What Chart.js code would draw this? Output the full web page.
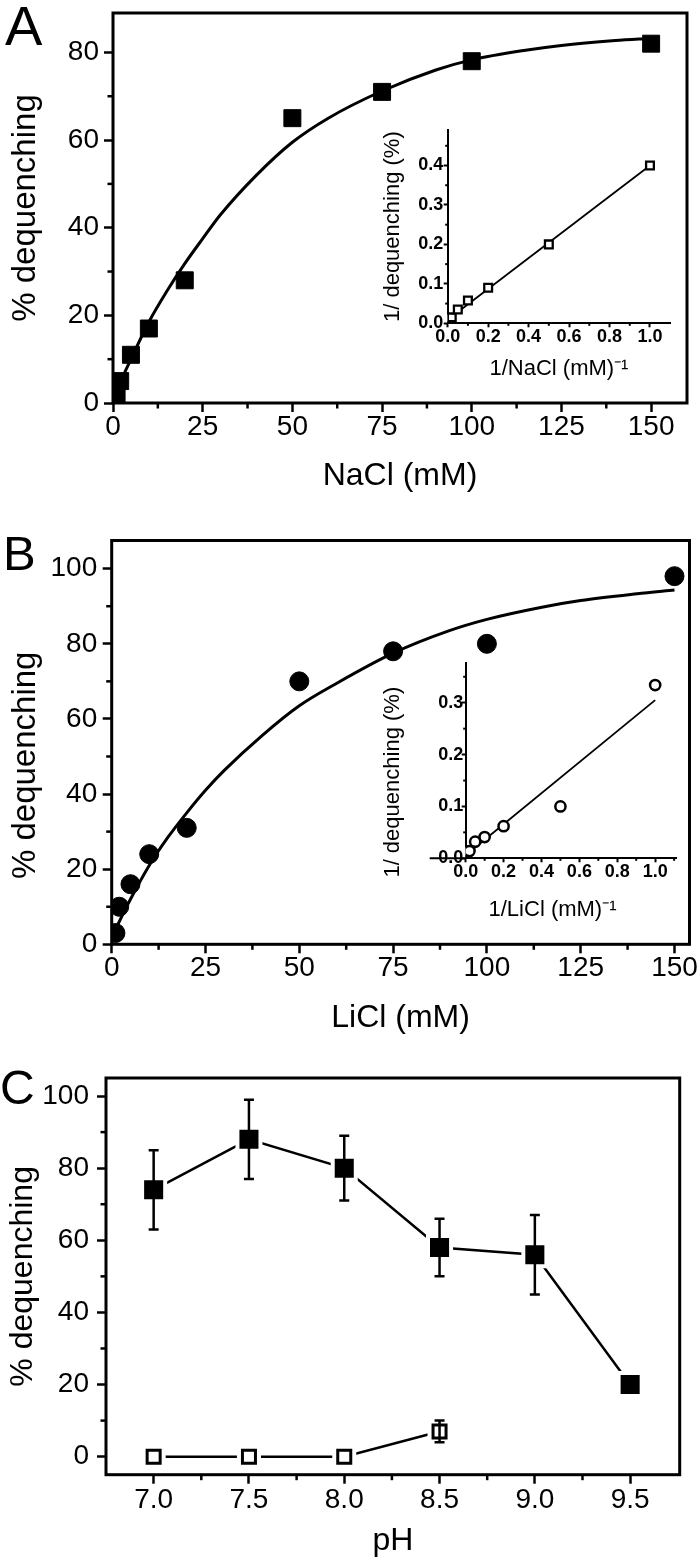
<!DOCTYPE html>
<html>
<head>
<meta charset="utf-8">
<script src="https://cdn.jsdelivr.net/npm/chart.js@4.4.1/dist/chart.umd.min.js"></script>
<style>
body { margin: 0; background: #fff; }
#fig { position: relative; width: 700px; height: 1563px; }
#fig canvas { position: absolute; }
.panel { position: absolute; font-family: 'Liberation Sans', Arial, sans-serif; line-height: 1; color: #000; }
</style>
</head>
<body>
<div id="fig">
  <canvas id="mainA" width="700" height="500" style="left:0;top:0"></canvas>
  <canvas id="insetA" width="310" height="290" style="left:380px;top:110px"></canvas>
  <canvas id="mainB" width="700" height="540" style="left:0;top:500px"></canvas>
  <canvas id="insetB" width="310" height="300" style="left:380px;top:640px"></canvas>
  <canvas id="mainC" width="700" height="523" style="left:0;top:1040px"></canvas>
  <div class="panel" style="left:5px;top:-2px;font-size:56px">A</div>
  <div class="panel" style="left:3px;top:529px;font-size:49px">B</div>
  <div class="panel" style="left:0;top:1064px;font-size:48px">C</div>
</div>
<script>
//Painel A: NaCl
const naclMM = [1, 2, 5, 10, 20, 50, 75, 100, 150];
const naclDeq = [2, 5, 11, 17, 28, 65, 71, 78, 82];
const naclFitX = [1, 2, 5, 10, 15, 20, 25, 30, 40, 50, 60, 75, 90, 100, 115, 125, 140, 150];
const naclFitY = [2, 4.5, 10, 18.5, 25.5, 31.8, 37.5, 43, 52, 59.5, 65, 71.2, 76, 78.3, 80.5, 81.6, 82.7, 83.2];

//Inset A: duplo recíproco
const naclInvX = [0.007, 0.01, 0.013, 0.02, 0.05, 0.1, 0.2, 0.5, 1.0];
const naclInvY = [0.012, 0.012, 0.013, 0.015, 0.035, 0.058, 0.09, 0.2, 0.4];
const naclLineX = [0, 1.0];
const naclLineY = [0.009, 0.4];

//Painel B: LiCl
const liclMM = [1, 2, 5, 10, 20, 50, 75, 100, 150];
const liclDeq = [3, 10, 16, 24, 31, 70, 78, 80, 98];
const liclFitX = [1, 2, 5, 10, 15, 20, 25, 30, 40, 50, 60, 75, 90, 100, 115, 125, 140, 150];
const liclFitY = [4, 6, 12, 21, 28.5, 35, 41, 46.3, 55.5, 63.5, 69.5, 77.5, 83.5, 86.5, 89.8, 91.5, 93.3, 94.3];

//Inset B
const liclInvX = [0.007, 0.01, 0.013, 0.02, 0.05, 0.1, 0.2, 0.5, 1.0];
const liclInvY = [0.01, 0.0125, 0.013, 0.014, 0.032, 0.041, 0.062, 0.1, 0.334];
const liclLineX = [0, 1.0];
const liclLineY = [0.006, 0.305];

//Painel C: pH
const phValues = [7.0, 7.5, 8.0, 8.5, 9.0, 9.5];
const phDeq = [74, 88, 80, 58, 56, 20];
const phErrLow = [63, 77, 71, 50, 45, null];
const phErrHigh = [85, 99, 89, 66, 67, null];
const phCtrlX = [7.0, 7.5, 8.0, 8.5];
const phCtrlY = [0, 0, 0, 7];
const phCtrlErrLow = [null, null, null, 4];
const phCtrlErrHigh = [null, null, null, 10];

//Valores dos ticks
const ticksMM = [0, 25, 50, 75, 100, 125, 150];
const ticksDeqA = [0, 20, 40, 60, 80];
const ticksDeq = [0, 20, 40, 60, 80, 100];
const ticksInvX = [0, 0.2, 0.4, 0.6, 0.8, 1.0];
const ticksInvYA = [0, 0.1, 0.2, 0.3, 0.4];
const ticksInvYB = [0, 0.1, 0.2, 0.3];
const ticksPH = [7.0, 7.5, 8.0, 8.5, 9.0, 9.5];

const FONT = "'Liberation Sans', Arial, sans-serif";

function pairs(xs, ys) {
    return xs.map((x, i) => ({x: x, y: ys[i]}));
}

//Eixo com tamanho fixo, ticks para fora e título
function axis(o) {
    const horizontal = o.pos === 'bottom';
    return {
        type: 'linear',
        position: o.pos,
        min: o.min,
        max: o.max,
        afterBuildTicks: s => { s.ticks = o.ticks.map(v => ({value: v})); },
        afterFit: s => {
            if (horizontal) s.height = o.size; else s.width = o.size;
            s.paddingLeft = s.paddingRight = s.paddingTop = s.paddingBottom = 0;
        },
        grid: {drawOnChartArea: false, tickLength: o.tick, tickWidth: o.lw, tickColor: '#000'},
        border: {display: !!o.border, width: o.lw, color: '#000'},
        ticks: {
            autoSkip: false,
            maxRotation: 0,
            color: '#000',
            padding: o.pad,
            font: {family: FONT, size: o.fs, weight: o.bold ? 'bold' : 'normal', lineHeight: 1},
            callback: v => o.dec ? v.toFixed(o.dec) : String(v)
        },
        title: {
            display: true,
            text: o.title,
            color: '#000',
            font: {family: FONT, size: o.ts, lineHeight: 1.2},
            padding: horizontal ? {top: 0, bottom: o.tpad} : {top: o.tpad, bottom: 0}
        }
    };
}

//Moldura, ticks menores, barras de erro
const deco = {
    id: 'deco',
    afterDatasetsDraw(chart, args, o) {
        const {ctx, chartArea: a, scales: {x, y}} = chart;
        ctx.save();
        ctx.strokeStyle = '#000';

        chart.data.datasets.forEach(ds => {
            if (!ds.errLow) return;
            ctx.lineWidth = 2.5;
            ds.data.forEach((p, i) => {
                if (ds.errLow[i] == null) return;
                const px = x.getPixelForValue(p.x);
                const lo = y.getPixelForValue(ds.errLow[i]);
                const hi = y.getPixelForValue(ds.errHigh[i]);
                ctx.beginPath();
                ctx.moveTo(px, lo); ctx.lineTo(px, hi);
                ctx.moveTo(px - 5, lo); ctx.lineTo(px + 5, lo);
                ctx.moveTo(px - 5, hi); ctx.lineTo(px + 5, hi);
                ctx.stroke();
            });
        });

        if (o.frame) {
            ctx.lineWidth = o.frame;
            ctx.strokeRect(a.left, a.top, a.right - a.left, a.bottom - a.top);
        }
        ctx.lineWidth = o.minorW;
        if (o.ext) {
            ctx.beginPath();
            ctx.moveTo(a.left - o.ext, a.bottom);
            ctx.lineTo(a.left, a.bottom);
            ctx.stroke();
        }
        [x, y].forEach(s => {
            const v = s.ticks.map(t => t.value);
            const step = v[1] - v[0];
            const eps = (s.max - s.min) * 0.005;
            [v[0] - step / 2].concat(v.map(t => t + step / 2)).forEach(m => {
                if (m <= s.min + eps || m >= s.max - eps) return;
                const p = s.getPixelForValue(m);
                ctx.beginPath();
                if (s.isHorizontal()) { ctx.moveTo(p, a.bottom); ctx.lineTo(p, a.bottom + o.minor); }
                else { ctx.moveTo(a.left, p); ctx.lineTo(a.left - o.minor, p); }
                ctx.stroke();
            });
        });
        ctx.restore();
    }
};

function draw(id, cfg) {
    return new Chart(document.getElementById(id), {
        type: 'scatter',
        data: {datasets: cfg.datasets},
        options: {
            responsive: false,
            animation: false,
            events: [],
            devicePixelRatio: 1,
            layout: {padding: cfg.pad},
            plugins: {legend: {display: false}, tooltip: {enabled: false}, deco: cfg.deco},
            scales: {x: cfg.x, y: cfg.y}
        },
        plugins: [deco]
    });
}

//Marcadores e curvas
function markers(data, style, r, fill, bw, stroke) {
    return {data: data, showLine: false, pointStyle: style, pointRadius: r,
        pointBackgroundColor: fill, pointBorderColor: stroke || '#000', pointBorderWidth: bw};
}
function curve(data, w, smooth) {
    return {data: data, showLine: true, borderColor: '#000', borderWidth: w, pointRadius: 0,
        cubicInterpolationMode: smooth ? 'monotone' : 'default', tension: 0};
}

const mainDeco = {frame: 3, minor: 5.5, minorW: 2.5};
const insetDeco = {minor: 2.5, minorW: 2};

//Painel A
draw('mainA', {
    pad: {left: 0, top: 2, right: 5, bottom: 0},
    deco: mainDeco,
    x: axis({pos: 'bottom', min: 0, max: 160, ticks: ticksMM, size: 97, tick: 9, lw: 2.5, pad: 1, fs: 28, title: 'NaCl (mM)', ts: 32, tpad: 5}),
    y: axis({pos: 'left', min: 0, max: 89, ticks: ticksDeqA, size: 113, tick: 9, lw: 2.5, pad: 5, fs: 28, title: '% dequenching', ts: 33, tpad: 6}),
    datasets: [
        markers(pairs(naclMM, naclDeq), 'rect', 12, '#000', 1),
        curve(pairs(naclFitX, naclFitY), 3, true)
    ]
});

draw('insetA', {
    pad: {left: 0, top: 20, right: 19.8, bottom: 0},
    deco: insetDeco,
    x: axis({pos: 'bottom', min: 0, max: 1.1, ticks: ticksInvX, size: 76.7, tick: 4, lw: 2, border: true, pad: 1, fs: 18, bold: true, dec: 1, title: '1/NaCl (mM)\u207B\u00B9', ts: 22, tpad: 17.8}),
    y: axis({pos: 'left', min: 0, max: 0.49, ticks: ticksInvYA, size: 67.7, tick: 4, lw: 2, border: true, pad: 0.5, fs: 18, bold: true, dec: 1, title: '1/ dequenching (%)', ts: 22, tpad: 0}),
    datasets: [
        markers(pairs(naclInvX, naclInvY), 'rect', 5.5, '#fff', 2.3),
        curve(pairs(naclLineX, naclLineY), 1.8, false)
    ]
});

//Painel B
draw('mainB', {
    pad: {left: 0, top: 40.5, right: 7.7, bottom: 0},
    deco: mainDeco,
    x: axis({pos: 'bottom', min: 0, max: 154, ticks: ticksMM, size: 95.7, tick: 9, lw: 2.5, pad: 1, fs: 28, title: 'LiCl (mM)', ts: 32, tpad: 3}),
    y: axis({pos: 'left', min: 0, max: 107.5, ticks: ticksDeq, size: 111.7, tick: 9, lw: 2.5, pad: 5.5, fs: 28, title: '% dequenching     ', ts: 33, tpad: 6}),
    datasets: [
        markers(pairs(liclMM, liclDeq), 'circle', 9.5, '#000', 1),
        curve(pairs(liclFitX, liclFitY), 3, true)
    ]
});

draw('insetB', {
    pad: {left: 0, top: 23.3, right: 14, bottom: 0},
    deco: Object.assign({ext: 36}, insetDeco),
    x: axis({pos: 'bottom', min: 0, max: 1.11, ticks: ticksInvX, size: 81.7, tick: 4, lw: 2, border: true, pad: 1, fs: 18, bold: true, dec: 1, title: '1/LiCl (mM)\u207B\u00B9      ', ts: 22, tpad: 16.8}),
    y: axis({pos: 'left', min: 0, max: 0.376, ticks: ticksInvYB, size: 85.7, tick: 4, lw: 2, border: true, pad: -1.5, fs: 18, bold: true, dec: 1, title: '1/ dequenching (%)       ', ts: 22, tpad: 0}),
    datasets: [
        markers(pairs(liclInvX, liclInvY), 'circle', 5.1, '#fff', 2.5),
        curve(pairs(liclLineX, liclLineY), 1.8, false)
    ]
});

//Painel C
const filled = markers(pairs(phValues, phDeq), 'rect', 16.3, '#000', 4, '#fff');
filled.errLow = phErrLow;
filled.errHigh = phErrHigh;
const ctrl = markers(pairs(phCtrlX, phCtrlY), 'rect', 9.2, '#fff', 3);
ctrl.errLow = phCtrlErrLow;
ctrl.errHigh = phCtrlErrHigh;

draw('mainC', {
    pad: {left: 0, top: 38, right: 8, bottom: 0},
    deco: mainDeco,
    x: axis({pos: 'bottom', min: 6.75, max: 9.76, ticks: ticksPH, size: 88.3, tick: 9, lw: 2.5, pad: 2.8, fs: 28, dec: 1, title: 'pH', ts: 32, tpad: 3}),
    y: axis({pos: 'left', min: -5, max: 105, ticks: ticksDeq, size: 106, tick: 9, lw: 2.5, pad: 8, fs: 28, title: '% dequenching', ts: 32, tpad: 4}),
    datasets: [
        filled,
        ctrl,
        markers(pairs(phCtrlX, phCtrlY), 'rect', 17, '#fff', 0),
        curve(pairs(phValues, phDeq), 2.5, false),
        curve(pairs(phCtrlX, phCtrlY), 2.5, false)
    ]
});
</script>
</body>
</html>
